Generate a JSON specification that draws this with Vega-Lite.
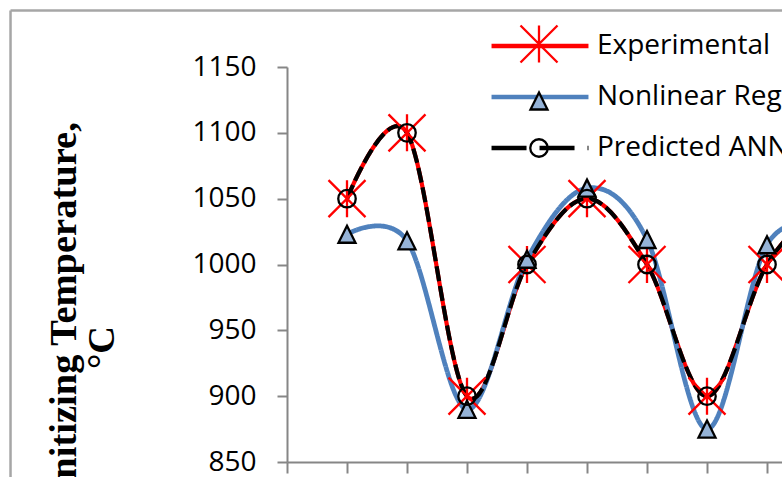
{
  "$schema": "https://vega.github.io/schema/vega-lite/v6.json",
  "width": 495,
  "height": 395,
  "autosize": {"type": "none"},
  "padding": {"left": 287, "top": 67, "right": 0, "bottom": 15},
  "background": "white",
  "config": {"view": {"stroke": null}},
  "data": {
    "values": [
      {"series": "Experimental", "sample": 1, "temperature": 1050},
      {"series": "Experimental", "sample": 2, "temperature": 1100},
      {"series": "Experimental", "sample": 3, "temperature": 900},
      {"series": "Experimental", "sample": 4, "temperature": 1000},
      {"series": "Experimental", "sample": 5, "temperature": 1050},
      {"series": "Experimental", "sample": 6, "temperature": 1000},
      {"series": "Experimental", "sample": 7, "temperature": 900},
      {"series": "Experimental", "sample": 8, "temperature": 1000},
      {"series": "Experimental", "sample": 9, "temperature": 1050},
      {"series": "Nonlinear Regression", "sample": 1, "temperature": 1023},
      {"series": "Nonlinear Regression", "sample": 2, "temperature": 1018},
      {"series": "Nonlinear Regression", "sample": 3, "temperature": 890},
      {"series": "Nonlinear Regression", "sample": 4, "temperature": 1004},
      {"series": "Nonlinear Regression", "sample": 5, "temperature": 1058},
      {"series": "Nonlinear Regression", "sample": 6, "temperature": 1019},
      {"series": "Nonlinear Regression", "sample": 7, "temperature": 875},
      {"series": "Nonlinear Regression", "sample": 8, "temperature": 1015},
      {"series": "Nonlinear Regression", "sample": 9, "temperature": 1030},
      {"series": "Predicted ANN", "sample": 1, "temperature": 1050},
      {"series": "Predicted ANN", "sample": 2, "temperature": 1100},
      {"series": "Predicted ANN", "sample": 3, "temperature": 900},
      {"series": "Predicted ANN", "sample": 4, "temperature": 1000},
      {"series": "Predicted ANN", "sample": 5, "temperature": 1050},
      {"series": "Predicted ANN", "sample": 6, "temperature": 1000},
      {"series": "Predicted ANN", "sample": 7, "temperature": 900},
      {"series": "Predicted ANN", "sample": 8, "temperature": 1000},
      {"series": "Predicted ANN", "sample": 9, "temperature": 1050}
    ]
  },
  "layer": [
    {
      "mark": {"type": "line", "interpolate": "cardinal"},
      "encoding": {
        "x": {
          "field": "sample", "type": "quantitative",
          "scale": {"domain": [0, 8.25], "nice": false, "zero": false},
          "axis": {
            "values": [0, 0.5, 1, 1.5, 2, 2.5, 3, 3.5, 4, 4.5, 5, 5.5, 6, 6.5, 7, 7.5, 8],
            "labels": false, "title": null, "grid": false,
            "domainColor": "#868686", "domainWidth": 2,
            "tickColor": "#868686", "tickWidth": 2,
            "tickSize": {"condition": {"test": "datum.value % 1 === 0", "value": 11}, "value": 8}
          }
        },
        "y": {
          "field": "temperature", "type": "quantitative",
          "scale": {"domain": [850, 1150], "nice": false, "zero": false},
          "axis": {
            "values": [850, 875, 900, 925, 950, 975, 1000, 1025, 1050, 1075, 1100, 1125, 1150],
            "format": "d",
            "labelExpr": "datum.value % 50 === 0 ? datum.label : ''",
            "grid": false,
            "domainColor": "#868686", "domainWidth": 2,
            "tickColor": "#868686", "tickWidth": 2,
            "tickSize": {"condition": {"test": "datum.value % 50 === 0", "value": 10}, "value": 7},
            "labelFont": "Open Sans", "labelFontSize": 28, "labelColor": "black",
            "labelPadding": 21,
            "title": ["Austenitizing Temperature,", "°C"],
            "titleFont": "Liberation Serif", "titleFontWeight": "bold", "titleFontSize": 38.5,
            "titleColor": "black", "titleAngle": -90, "titleAlign": "center",
            "titleBaseline": "alphabetic", "titleLineHeight": 38,
            "titleX": -212, "titleY": 280
          }
        },
        "color": {
          "field": "series", "type": "nominal",
          "scale": {
            "domain": ["Experimental", "Nonlinear Regression", "Predicted ANN"],
            "range": ["#FF0000", "#4F81BD", "#000000"]
          },
          "legend": {
            "orient": "none", "legendX": 232, "legendY": -42, "title": null, "padding": 0,
            "symbolType": "M-2.62,0L2.62,0", "symbolSize": 1369, "symbolStrokeWidth": 4.5,
            "labelFont": "Open Sans", "labelFontSize": 28, "labelColor": "black",
            "labelOffset": 36, "labelLimit": 600, "rowPadding": 16
          }
        },
        "strokeWidth": {"condition": {"test": "datum.series === 'Nonlinear Regression'", "value": 4.8}, "value": 4.2},
        "strokeDash": {"condition": {"test": "datum.series === 'Predicted ANN'", "value": [15, 5]}, "value": [1, 0]}
      }
    },
    {
      "data": {"values": [{}]},
      "mark": {"type": "rule", "color": "#A6A6A6", "strokeWidth": 2.5},
      "encoding": {
        "x": {"datum": -4.608, "type": "quantitative"},
        "x2": {"datum": 9},
        "y": {"datum": 1192.9, "type": "quantitative"}
      }
    },
    {
      "data": {"values": [{}]},
      "mark": {"type": "rule", "color": "#A6A6A6", "strokeWidth": 2.5},
      "encoding": {
        "x": {"datum": -4.608, "type": "quantitative"},
        "y": {"datum": 1192.9, "type": "quantitative"},
        "y2": {"datum": 820}
      }
    },
    {
      "transform": [{"filter": "false"}],
      "mark": {"type": "line"},
      "encoding": {
        "x": {"field": "sample", "type": "quantitative"},
        "y": {"field": "temperature", "type": "quantitative"},
        "strokeDash": {
          "field": "series", "type": "nominal",
          "scale": {
            "domain": ["Experimental", "Nonlinear Regression", "Predicted ANN"],
            "range": [[1, 0], [1, 0], [35, 13]]
          },
          "legend": {
            "orient": "none", "legendX": 232, "legendY": -42, "title": null, "padding": 0,
            "symbolType": "M-2.62,0L2.62,0", "symbolSize": 1369, "symbolStrokeWidth": 4.5,
            "labelFont": "Open Sans", "labelFontSize": 28, "labelColor": "black",
            "labelOffset": 36, "labelLimit": 600, "rowPadding": 16
          }
        }
      }
    },
    {
      "mark": {"type": "point", "opacity": 1, "size": 1369, "strokeWidth": 2.3},
      "encoding": {
        "x": {"field": "sample", "type": "quantitative"},
        "y": {"field": "temperature", "type": "quantitative"},
        "shape": {
          "field": "series", "type": "nominal",
          "scale": {
            "range": [
              "M-1,-1L1,1M1,-1L-1,1M0,-1L0,1",
              "M0,-0.46L0.46,0.46L-0.46,0.46Z",
              "M0.473,0A0.473,0.473,0,1,1,-0.473,0A0.473,0.473,0,1,1,0.473,0Z"
            ]
          },
          "legend": {
            "orient": "none", "legendX": 232, "legendY": -43, "title": null, "padding": 0,
            "symbolSize": 1369, "symbolStrokeWidth": 2.3,
            "labelFont": "Open Sans", "labelFontSize": 28, "labelOpacity": 0,
            "labelOffset": 36, "labelLimit": 600, "rowPadding": 13
          }
        },
        "fill": {
          "field": "series", "type": "nominal",
          "scale": {"range": ["transparent", "#95B3D7", "transparent"]},
          "legend": {
            "orient": "none", "legendX": 232, "legendY": -43, "title": null, "padding": 0,
            "symbolSize": 1369, "symbolStrokeWidth": 2.3,
            "labelFont": "Open Sans", "labelFontSize": 28, "labelOpacity": 0,
            "labelOffset": 36, "labelLimit": 600, "rowPadding": 13
          }
        },
        "stroke": {
          "field": "series", "type": "nominal",
          "scale": {"range": ["#FF0000", "#000000", "#000000"]},
          "legend": {
            "orient": "none", "legendX": 232, "legendY": -43, "title": null, "padding": 0,
            "symbolSize": 1369, "symbolStrokeWidth": 2.3,
            "labelFont": "Open Sans", "labelFontSize": 28, "labelOpacity": 0,
            "labelOffset": 36, "labelLimit": 600, "rowPadding": 13
          }
        }
      }
    }
  ]
}
